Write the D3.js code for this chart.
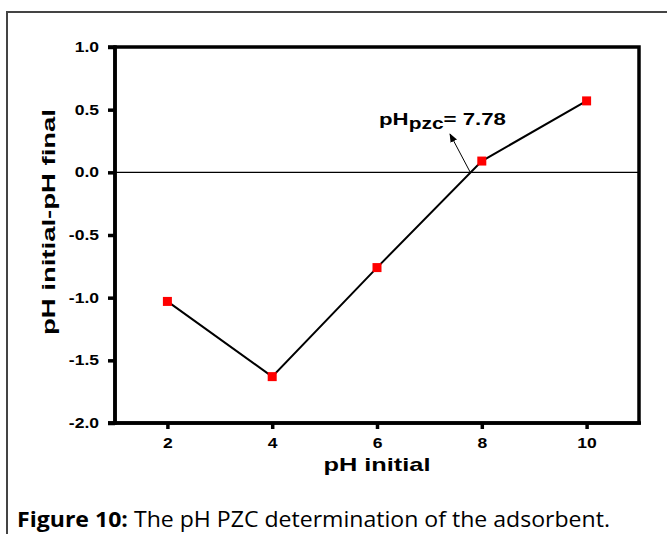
<!DOCTYPE html>
<html><head><meta charset="utf-8">
<script src="https://cdn.jsdelivr.net/npm/d3@7"></script>
<style>body{margin:0;background:#fff}svg{display:block}</style>
</head><body><svg id="c" width="667" height="534"></svg>
<script>
const phInitial = [2, 4, 6, 8, 10];
const phDiff = [-1.03, -1.63, -0.76, 0.09, 0.57];
const xTicks = [2, 4, 6, 8, 10];
const yTicks = [1.0, 0.5, 0.0, -0.5, -1.0, -1.5, -2.0];
const yTickLabels = ["1.0", "0.5", "0.0", "-0.5", "-1.0", "-1.5", "-2.0"];
const pzcValue = 7.78;

const svg = d3.select("#c");
const L = 115, R = 639, T = 47, B = 423;
const x = d3.scaleLinear().domain([1, 11]).range([L, R]);
const y = d3.scaleLinear().domain([-2, 1]).range([B, T]);
const font = "'Liberation Sans', Arial, sans-serif";

function stretch(sel, k) {
  sel.each(function () {
    const w = this.getComputedTextLength();
    d3.select(this).attr("textLength", w * k).attr("lengthAdjust", "spacingAndGlyphs");
  });
}

// outer border
svg.append("path").attr("d", "M7,534 V12 H667").attr("fill", "none").attr("stroke", "#444").attr("stroke-width", 2);

// zero line
svg.append("line").attr("x1", L).attr("x2", R).attr("y1", y(0)).attr("y2", y(0)).attr("stroke", "#000").attr("stroke-width", 1.2);

// frame
svg.append("rect").attr("x", L).attr("y", T).attr("width", R - L).attr("height", B - T)
  .attr("fill", "none").attr("stroke", "#000").attr("stroke-width", 3.5);

const yAxis = svg.append("g").attr("transform", `translate(${L},0)`)
  .call(d3.axisLeft(y).tickValues(yTicks).tickFormat((d, i) => yTickLabels[i]).tickSize(7).tickPadding(9));
const xAxis = svg.append("g").attr("transform", `translate(0,${B})`)
  .call(d3.axisBottom(x).tickValues(xTicks).tickFormat(d3.format("d")).tickSize(6).tickPadding(9));
[yAxis, xAxis].forEach(a => {
  a.select(".domain").attr("stroke-width", 3.5);
  a.selectAll(".tick line").attr("stroke-width", 3.5);
  a.selectAll(".tick text").attr("font-family", font).attr("font-weight", "bold").attr("font-size", 14).attr("fill", "#000");
  stretch(a.selectAll(".tick text"), 1.25);
});
yAxis.select(".domain").attr("d", `M-7,${B}H0V${T}H-7`);
xAxis.select(".domain").attr("d", `M${L - 7},0H${R + 2}`);

// line + markers
const line = d3.line().x((d, i) => x(phInitial[i])).y(d => y(d));
svg.append("path").datum(phDiff).attr("d", line).attr("fill", "none").attr("stroke", "#000").attr("stroke-width", 2);
svg.selectAll("rect.m").data(phDiff).join("rect").attr("class", "m")
  .attr("x", (d, i) => x(phInitial[i]) - 4.5).attr("y", d => y(d) - 4.5)
  .attr("width", 9).attr("height", 9).attr("fill", "#ff0000");

// annotation
svg.append("defs").append("marker").attr("id", "ah").attr("viewBox", "0 0 10 10").attr("refX", 9).attr("refY", 5)
  .attr("markerWidth", 9).attr("markerHeight", 9).attr("markerUnits", "userSpaceOnUse").attr("orient", "auto")
  .append("path").attr("d", "M0,1 L10,5 L0,9 Z").attr("fill", "#000");
svg.append("line").attr("x1", x(pzcValue)).attr("y1", y(0)).attr("x2", 450).attr("y2", 134)
  .attr("stroke", "#000").attr("stroke-width", 1).attr("marker-end", "url(#ah)");
const ann = svg.append("text").attr("x", 379).attr("y", 125).attr("font-family", font).attr("font-weight", "bold")
  .attr("font-size", 17).attr("fill", "#000").attr("textLength", 127).attr("lengthAdjust", "spacingAndGlyphs");
ann.append("tspan").text("pH");
ann.append("tspan").attr("dy", 4).attr("font-size", 16).text("pzc");
ann.append("tspan").attr("dy", -4).text("= " + pzcValue.toFixed(2));

// axis titles
svg.append("text").attr("x", 377).attr("y", 471).attr("text-anchor", "middle").attr("font-family", font)
  .attr("font-weight", "bold").attr("font-size", 19).attr("fill", "#000")
  .attr("textLength", 107).attr("lengthAdjust", "spacingAndGlyphs").text("pH initial");
svg.append("text").attr("transform", `translate(55,222) rotate(-90)`).attr("text-anchor", "middle")
  .attr("font-family", font).attr("font-weight", "bold").attr("font-size", 19).attr("fill", "#000")
  .attr("textLength", 226).attr("lengthAdjust", "spacingAndGlyphs").text("pH initial-pH final");

// caption
const cap = svg.append("text").attr("x", 17).attr("y", 527).attr("font-family", "'Open Sans', Lato, sans-serif")
  .attr("font-size", 21).attr("fill", "#000").attr("textLength", 593).attr("lengthAdjust", "spacingAndGlyphs");
cap.append("tspan").attr("font-weight", "bold").text("Figure 10:");
cap.append("tspan").text(" The pH PZC determination of the adsorbent.");
</script></body></html>
